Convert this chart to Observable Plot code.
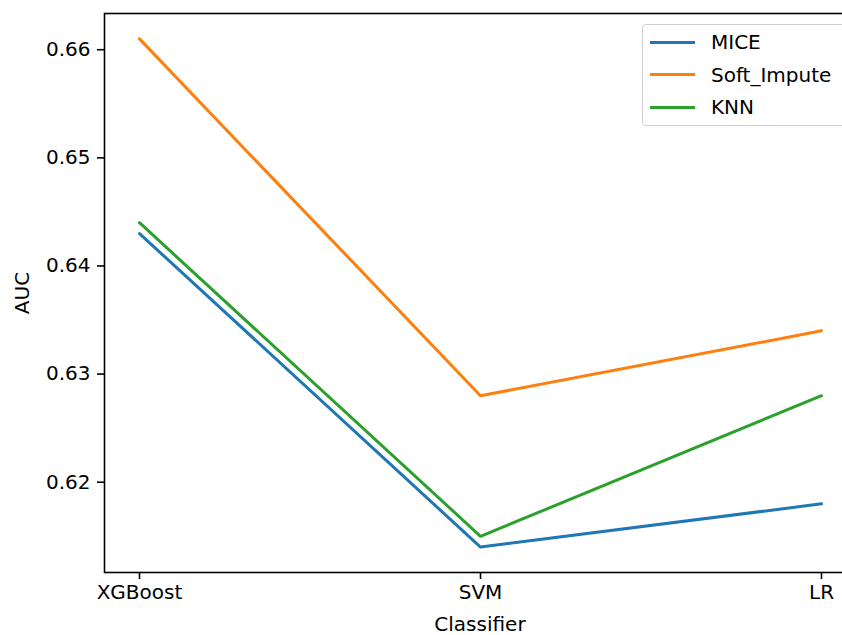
<!DOCTYPE html>
<html>
<head>
<meta charset="utf-8">
<script src="https://cdn.jsdelivr.net/npm/d3@7"></script>
<script src="https://cdn.jsdelivr.net/npm/@observablehq/plot@0.6"></script>
<style>
  html, body { margin: 0; padding: 0; background: #fff; overflow: hidden; width: 842px; height: 635px; }
  #wrap { position: relative; width: 842px; height: 635px; overflow: hidden; }
  #chart svg { max-width: none !important; width: 860px !important; height: 635px !important; display: block; }
  #legend { position: absolute; left: 642px; top: 24px; width: 230px; height: 100px;
    border: 1px solid #d0d0d0; border-radius: 4px; background: rgba(255,255,255,0.85);
    font-family: "DejaVu Sans", sans-serif; font-size: 20px; color: #000; }
  .row { position: absolute; left: 0; height: 30px; }
  .swatch { position: absolute; left: 7px; width: 45px; height: 3px; }
  .lab { position: absolute; left: 68px; white-space: nowrap; line-height: 30px; }
</style>
</head>
<body>
<div id="wrap"><div id="chart"></div><div id="legend"></div></div>
<script>
const classifiers = ["XGBoost", "SVM", "LR"];
const seriesNames = ["MICE", "Soft_Impute", "KNN"];
const miceAUC = [0.643, 0.614, 0.618];
const softImputeAUC = [0.661, 0.628, 0.634];
const knnAUC = [0.644, 0.615, 0.628];
const seriesColors = ["#1f77b4", "#ff7f0e", "#2ca02c"];
const yTicks = [0.62, 0.63, 0.64, 0.65, 0.66];

const allValues = [miceAUC, softImputeAUC, knnAUC];
const data = [];
seriesNames.forEach((s, i) => classifiers.forEach((c, j) => data.push({series: s, classifier: c, auc: allValues[i][j]})));

const vmin = d3.min(data, d => d.auc), vmax = d3.max(data, d => d.auc);
const pad = (vmax - vmin) * 0.05;

const chart = Plot.plot({
  width: 860,
  height: 635,
  marginLeft: 104,
  marginRight: 5,
  marginTop: 13,
  marginBottom: 63,
  style: {fontFamily: "DejaVu Sans, sans-serif", fontSize: "20px", color: "#000", background: "#fff"},
  x: {type: "point", domain: classifiers, padding: 0.1},
  y: {domain: [vmin - pad, vmax + pad]},
  color: {domain: seriesNames, range: seriesColors},
  marks: [
    Plot.lineY(data, {x: "classifier", y: "auc", z: "series", stroke: "series", strokeWidth: 3}),
    Plot.frame({stroke: "#000", strokeWidth: 1.6}),
    Plot.axisX({tickSize: 7, tickPadding: 5, fontSize: 20, label: "Classifier", labelAnchor: "center", labelOffset: 58, stroke: "#000", strokeWidth: 1.6}),
    Plot.axisY({ticks: yTicks, tickFormat: ".2f", tickSize: 7, tickPadding: 7, fontSize: 20, label: "AUC", labelAnchor: "center", labelOffset: 90, labelArrow: "none", stroke: "#000", strokeWidth: 1.6})
  ]
});
document.getElementById("chart").appendChild(chart);

const legend = document.getElementById("legend");
seriesNames.forEach((s, i) => {
  const row = document.createElement("div");
  row.className = "row";
  row.style.top = (2 + i * 32.5) + "px";
  row.style.width = "230px";
  const sw = document.createElement("div");
  sw.className = "swatch";
  sw.style.background = seriesColors[i];
  sw.style.top = "13.5px";
  const lab = document.createElement("div");
  lab.className = "lab";
  lab.textContent = s;
  row.appendChild(sw);
  row.appendChild(lab);
  legend.appendChild(row);
});
</script>
</body>
</html>
